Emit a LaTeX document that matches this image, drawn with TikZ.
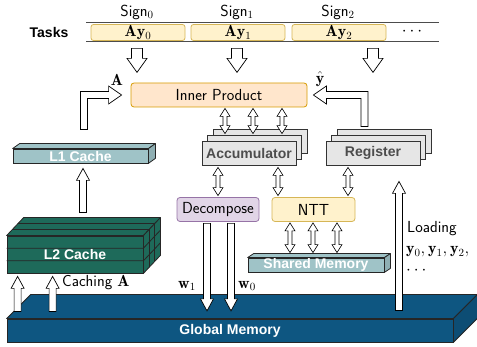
\documentclass[tikz,border=0pt]{standalone}
\usepackage{fontspec}
\usepackage{tikz}
\usepackage{xcolor}
\usetikzlibrary{calc,shadows}
\newfontfamily\hwfont{Liberation Sans}
\definecolor{taskfill}{HTML}{FFF2CC}
\definecolor{taskline}{HTML}{D6B656}
\definecolor{ipfill}{HTML}{FFE6CC}
\definecolor{ipline}{HTML}{D79B00}
\definecolor{decfill}{HTML}{E1D5E7}
\definecolor{decline}{HTML}{9673A6}
\definecolor{unitfill}{HTML}{E6E6E6}
\definecolor{unittext}{HTML}{4D4D4D}
\definecolor{l1col}{HTML}{9FC3C7}
\definecolor{l2col}{HTML}{1E6A5A}
\definecolor{globcol}{HTML}{0E5681}

\tikzset{
  ba shaft/.store in=\bashaft,
  ba head/.store in=\bahead,
  ba len/.store in=\balen,
  ba shaft=3pt, ba head=6pt, ba len=10pt
}

\begin{document}
\begin{tikzpicture}[x=1pt, y=1pt,
    lbl/.style={font=\fontsize{16}{19}\selectfont\sffamily, inner sep=1pt},
    hw/.style={font=\fontsize{14}{16}\selectfont\hwfont\bfseries, inner sep=0pt},
    task/.style={draw=taskline, fill=taskfill, rounded corners=2.5pt, line width=0.8pt,
      minimum width=94pt, minimum height=16pt, inner sep=0pt, font=\fontsize{16}{19}\selectfont},
    box/.style={rounded corners=3pt, line width=0.8pt, minimum height=24pt, inner sep=0pt,
      font=\fontsize{16}{19}\selectfont\sffamily},
    unit/.style={hw, text=unittext, draw=black!80, fill=unitfill, line width=0.8pt,
      minimum width=94pt, minimum height=24pt,
      double copy shadow={shadow xshift=5.5pt, shadow yshift=6pt}},
    slab/.style={hw, text=white, draw=black!85, line width=0.8pt},
    slabline/.style={draw=black!85, line width=0.8pt, line join=round},
    rowline/.style={draw=black!70, line width=1pt},
    blk/.style={draw, fill=white, line width=0.7pt, line join=miter,
      to path={let \p1=(\tikztostart), \p2=(\tikztotarget) in
        ($(\p1)!\bashaft!90:(\p2)$)
        -- ($(\p2)!\balen!(\p1)!\bashaft!-90:(\p1)$)
        -- ($(\p2)!\balen!(\p1)!\bahead!-90:(\p1)$)
        -- (\p2)
        -- ($(\p2)!\balen!(\p1)!\bahead!90:(\p1)$)
        -- ($(\p2)!\balen!(\p1)!\bashaft!90:(\p1)$)
        -- ($(\p1)!\bashaft!-90:(\p2)$) -- cycle}},
    dblk/.style={draw, fill=white, line width=0.6pt, line join=miter,
      to path={let \p1=(\tikztostart), \p2=(\tikztotarget) in
        (\p1)
        -- ($(\p1)!\balen!(\p2)!\bahead!90:(\p2)$)
        -- ($(\p1)!\balen!(\p2)!\bashaft!90:(\p2)$)
        -- ($(\p2)!\balen!(\p1)!\bashaft!-90:(\p1)$)
        -- ($(\p2)!\balen!(\p1)!\bahead!-90:(\p1)$)
        -- (\p2)
        -- ($(\p2)!\balen!(\p1)!\bahead!90:(\p1)$)
        -- ($(\p2)!\balen!(\p1)!\bashaft!90:(\p1)$)
        -- ($(\p1)!\balen!(\p2)!\bashaft!-90:(\p2)$)
        -- ($(\p1)!\balen!(\p2)!\bahead!-90:(\p2)$) -- cycle}},
    fatarr/.style={blk, ba shaft=5.5pt, ba head=10pt, ba len=14pt},
    medarr/.style={blk, ba shaft=3.5pt, ba head=6.5pt, ba len=12pt},
    dblarr/.style={dblk, ba shaft=2pt, ba head=5pt, ba len=8pt},
    lblk/.style={draw, fill=white, line width=0.7pt, line join=miter}
  ]
  \useasboundingbox (0,0) rectangle (477,-347);

  % task row
  \node[hw] (tasks) at (49,-32) {Tasks};
  \draw[rowline] (86,-23) -- (439,-23);
  \draw[rowline] (86,-41.5) -- (439,-41.5);
  \node[task] (t0) at (138,-32.5) {$\mathbf{A}\mathbf{y}_0$};
  \node[task] (t1) at (238,-32.5) {$\mathbf{A}\mathbf{y}_1$};
  \node[task] (t2) at (339,-32.5) {$\mathbf{A}\mathbf{y}_2$};
  \node[lbl] (tdots) at (412,-32) {$\cdots$};
  \node[lbl] (sign0) at (137,-12) {Sign$_0$};
  \node[lbl] (sign1) at (237,-12) {Sign$_1$};
  \node[lbl] (sign2) at (338,-12) {Sign$_2$};

  % compute units
  \node[box, draw=ipline, fill=ipfill, minimum width=176pt] (inner) at (219,-95) {Inner Product};
  \node[unit] (acc) at (249,-153) {Accumulator};
  \node[unit] (reg) at (373,-153) {Register};
  \node[box, draw=decline, fill=decfill, minimum width=82pt] (dec) at (218,-209.5) {Decompose};
  \node[box, draw=taskline, fill=taskfill, minimum width=83pt] (ntt) at (313.5,-209.5) {NTT};

  % memories
  \node[slab, fill=l1col, minimum width=135pt, minimum height=14pt] (l1) at (80.5,-156) {L1 Cache};
  \node[slab, fill=l1col, minimum width=136pt, minimum height=14pt] (shm) at (316,-265) {Shared Memory};
  \node[slab, fill=globcol, minimum width=446pt, minimum height=23pt] (glob) at (230,-330.5) {Global Memory};
  \foreach \s/\dx/\dy/\c in {l1/7/5/l1col, shm/6/4/l1col, glob/24/24/globcol} {
    \draw[slabline, fill=\c] (\s.north west) -- ++(\dx,\dy) -- ($(\s.north east)+(\dx,\dy)$) -- (\s.north east) -- cycle;
    \draw[slabline, fill=\c!90!black] (\s.north east) -- ++(\dx,\dy) -- ($(\s.south east)+(\dx,\dy)$) -- (\s.south east) -- cycle;
  }
  \node[slab, fill=l2col, minimum width=136pt, minimum height=37pt] (l2) at (75,-254.5) {L2 Cache};
  \draw[slabline, fill=l2col] (l2.north west) -- ++(17,18) -- ($(l2.north east)+(17,18)$) -- (l2.north east) -- cycle;
  \draw[slabline, fill=l2col] (l2.north east) -- ++(17,18) -- ($(l2.south east)+(17,18)$) -- (l2.south east) -- cycle;
  \foreach \f in {0.333,0.667} {
    \draw[slabline] ($(l2.north west)!\f!(l2.south west)$) -- ($(l2.north east)!\f!(l2.south east)$) -- ++(17,18);
    \draw[slabline] ($(l2.north west)+\f*(17,18)$) -- ($(l2.north east)+\f*(17,18)$) -- ++(0,-37);
  }

  % task arrows
  \path[fatarr] ($(t0.south)+(-1,-7.5)$) to ($(t0.south)+(-1,-31.5)$);
  \path[fatarr] ($(t1.south)+(-1,-7.5)$) to ($(t1.south)+(-1,-31.5)$);
  \path[fatarr] ($(t2.south)+(34,-7.5)$) to ($(t2.south)+(34,-31.5)$);

  % A and y-hat into inner product
  \path[lblk] let \p1=($(l1.north)+(3.5,19)$), \p2=($(inner.west)+(-9,0)$) in
    (\x1-3.5,\y1) -- (\x1-3.5,\y2+3.5) -- (\x2-13,\y2+3.5) -- (\x2-13,\y2+9) -- (\p2)
    -- (\x2-13,\y2-9) -- (\x2-13,\y2-3.5) -- (\x1+3.5,\y2-3.5) -- (\x1+3.5,\y1) -- cycle;
  \path[lblk] let \p1=($(reg.north)+(-8.5,14)$), \p2=($(inner.east)+(6,0)$) in
    (\x1+3.5,\y1) -- (\x1+3.5,\y2+3.5) -- (\x2+13,\y2+3.5) -- (\x2+13,\y2+9) -- (\p2)
    -- (\x2+13,\y2-9) -- (\x2+13,\y2-3.5) -- (\x1-3.5,\y2-3.5) -- (\x1-3.5,\y1) -- cycle;
  \node[lbl] (lblA) at (117,-80) {$\mathbf{A}$};
  \node[lbl] (lblyhat) at (320,-79) {$\hat{\mathbf{y}}$};

  % inner product <-> accumulator
  \path[dblarr] ($(inner.south)+(6,-1)$) to ($(acc.north)+(-24,7)$);
  \path[dblarr] ($(inner.south)+(34,-1)$) to ($(acc.north)+(4,7)$);
  \path[dblarr] ($(inner.south)+(63,-1)$) to ($(acc.north)+(33,7)$);
  % accumulator / register <-> decompose, ntt
  \path[dblarr] ($(acc.south)+(-31,-2)$) to ($(dec.north)+(0,1.5)$);
  \path[dblarr] ($(acc.south)+(29,-2)$) to ($(ntt.north)+(-35.5,1.5)$);
  \path[dblarr] ($(reg.south)+(-25,-2)$) to ($(ntt.north)+(34.5,1.5)$);
  % ntt <-> shared memory
  \path[dblarr] ($(ntt.south)+(-23.5,-1)$) to ($(shm.north)+(-26,5)$);
  \path[dblarr] ($(ntt.south)+(-0.5,-1)$) to ($(shm.north)+(-3,5)$);
  \path[dblarr] ($(ntt.south)+(23.5,-1)$) to ($(shm.north)+(21,5)$);

  % decompose -> global memory
  \path[medarr] ($(dec.south)+(-11,-1.5)$) to ($(dec.south)+(-11,-89)$);
  \path[medarr] ($(dec.south)+(13,-1.5)$) to ($(dec.south)+(13,-89)$);
  \node[lbl] (lblw1) at (187,-286) {$\mathbf{w}_1$};
  \node[lbl] (lblw0) at (247,-286) {$\mathbf{w}_0$};

  % caching and loading
  \path[medarr] ($(l2.north)+(8,23)$) to ($(l1.south)+(2.5,-5)$);
  \path[medarr] ($(glob.north west)+(11,7)$) to ($(l2.south west)+(11,-3)$);
  \path[medarr] ($(glob.north west)+(46,7)$) to ($(l2.south west)+(46,-3)$);
  \node[lbl, anchor=west] (caching) at (61,-283) {Caching $\mathbf{A}$};
  \path[medarr] ($(glob.north)+(169,8)$) to ($(reg.south)+(26,-16)$);
  \node[lbl, anchor=west] (loading) at (406,-229) {Loading};
  \node[lbl, anchor=west] (yload) at (405,-252) {$\mathbf{y}_0,\mathbf{y}_1,\mathbf{y}_2,$};
  \node[lbl, anchor=west] (ydots) at (405,-271) {$\cdots$};
\end{tikzpicture}
\end{document}
